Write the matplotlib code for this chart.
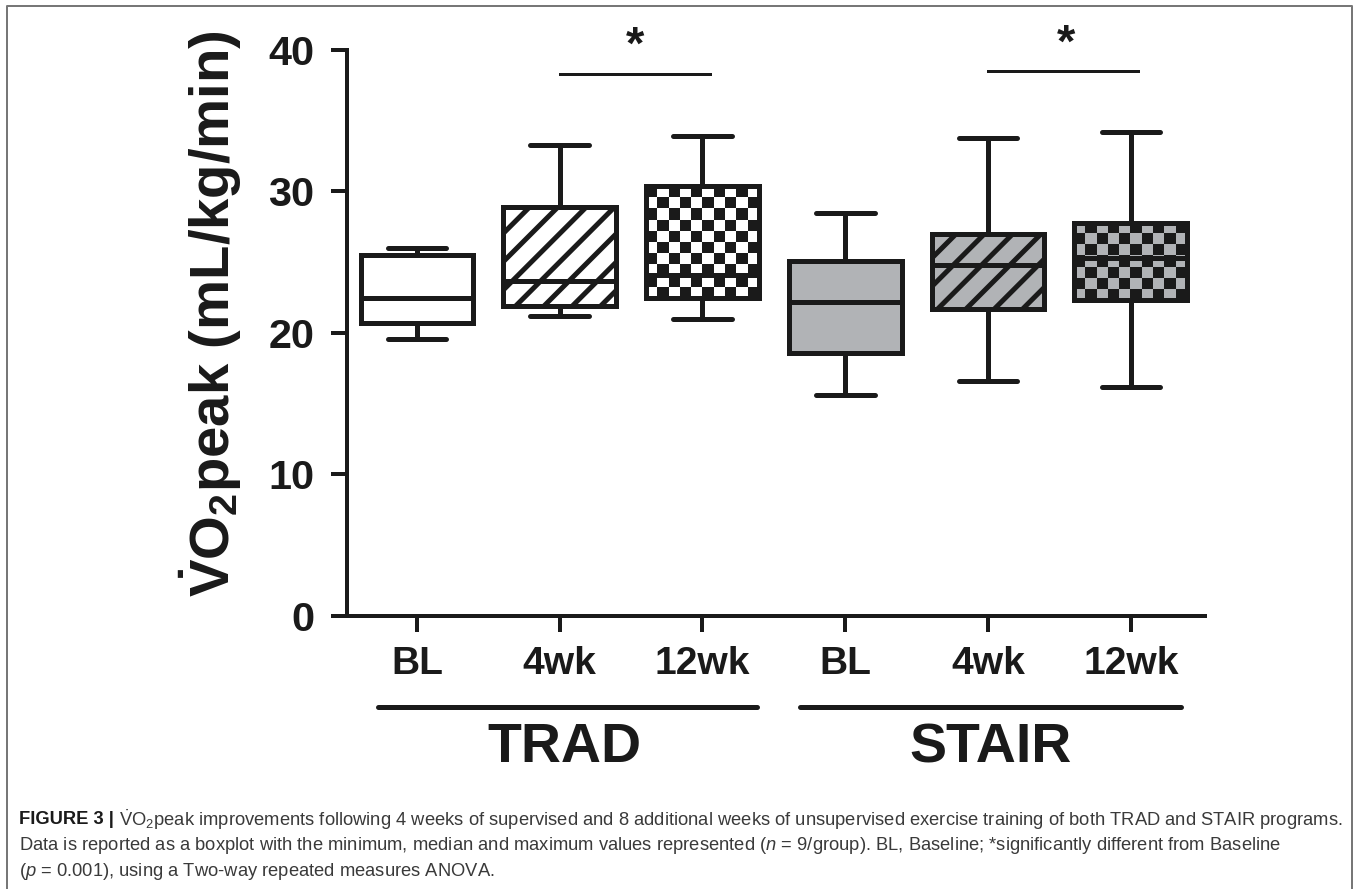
"""
VO2peak の箱ひげ図（TRAD / STAIR、BL・4wk・12wk）。
最小値・四分位・中央値・最大値を読み取った値で再現する。
"""

import matplotlib

matplotlib.use("Agg")
import matplotlib.pyplot as plt
import numpy as np
from matplotlib.colors import ListedColormap
from matplotlib.lines import Line2D
from matplotlib.patches import Rectangle

# ---- data ----
groups = ["TRAD", "STAIR"]
timepoints = ["BL", "4wk", "12wk", "BL", "4wk", "12wk"]
v_min = [19.6, 21.2, 21.0, 15.6, 16.6, 16.2]
v_q1 = [20.7, 21.9, 22.5, 18.6, 21.7, 22.3]
v_med = [22.5, 23.7, 24.1, 22.2, 24.8, 25.3]
v_q3 = [25.5, 28.9, 30.4, 25.1, 27.0, 27.8]
v_max = [26.0, 33.3, 33.9, 28.5, 33.8, 34.2]
fills = ["white", "white", "white", "#b1b3b6", "#b1b3b6", "#b1b3b6"]
patterns = ["", "//", "checker", "", "//", "checker"]
sig_pairs = [(2, 3), (5, 6)]

DPI = 170
PX = 72 / DPI  # 1 px in points
INK = "#1a1a1a"

plt.rcParams["font.family"] = ["Liberation Sans", "DejaVu Sans"]
plt.rcParams["mathtext.fontset"] = "custom"
plt.rcParams["mathtext.rm"] = "Liberation Sans"
plt.rcParams["mathtext.it"] = "Liberation Sans:italic"
plt.rcParams["mathtext.bf"] = "Liberation Sans:bold"
plt.rcParams["hatch.linewidth"] = 5 * PX

fig = plt.figure(figsize=(1357 / DPI, 889 / DPI), dpi=DPI)
ax = fig.add_axes([0.2557, 0.3071, 0.6323, 0.6367])

positions = np.arange(1, len(timepoints) + 1)
stats = [
    dict(whislo=lo, q1=a, med=m, q3=b, whishi=hi, fliers=[])
    for lo, a, m, b, hi in zip(v_min, v_q1, v_med, v_q3, v_max)
]
lw = 5 * PX
bp = ax.bxp(
    stats,
    positions=positions,
    widths=0.79,
    capwidths=0.41,
    patch_artist=True,
    boxprops=dict(linewidth=lw, edgecolor=INK),
    whiskerprops=dict(linewidth=lw, color=INK, solid_capstyle="butt"),
    capprops=dict(linewidth=lw, color=INK, solid_capstyle="round"),
    medianprops=dict(linewidth=lw, color=INK, zorder=5),
    showfliers=False,
)

# 塗り・ハッチ・チェック柄
sq_x, sq_y = 11.3 / 142.8, 11.3 / 14.15
for box, fill, pat, s, p in zip(bp["boxes"], fills, patterns, stats, positions):
    box.set_facecolor(fill)
    if pat == "checker":
        x0, x1 = p - 0.395, p + 0.395
        nx = int(round((x1 - x0) / sq_x))
        ny = int(round((s["q3"] - s["q1"]) / sq_y))
        grid = (np.add.outer(np.arange(ny), np.arange(nx)) % 2).astype(float)
        cmap = ListedColormap([fill, INK])
        im = ax.imshow(grid, extent=(x0, x1, s["q1"], s["q3"]), cmap=cmap,
                       interpolation="nearest", aspect="auto", origin="lower",
                       zorder=box.get_zorder() + 0.1)
        im.set_clip_path(box)
        edge = Rectangle((x0, s["q1"]), x1 - x0, s["q3"] - s["q1"],
                         facecolor="none", edgecolor=INK, linewidth=lw,
                         zorder=box.get_zorder() + 0.2)
        edge.set_joinstyle("round")
        ax.add_patch(edge)
    elif pat:
        box.set_hatch(pat)

ax.set_xlim(0.51, 6.52)
ax.set_ylim(0, 40)

# 軸
for side in ["top", "right"]:
    ax.spines[side].set_visible(False)
for side in ["left", "bottom"]:
    ax.spines[side].set_linewidth(4 * PX)
    ax.spines[side].set_color(INK)
ax.set_yticks([0, 10, 20, 30, 40])
ax.set_xticks(positions)
ax.set_xticklabels(timepoints, fontsize=16.5, fontweight="bold", color=INK)
ax.tick_params(axis="both", length=16 * PX, width=4 * PX, color=INK)
ax.tick_params(axis="x", pad=6.0)
ax.tick_params(axis="y", pad=7, labelsize=17.5, labelcolor=INK)
for t in ax.get_yticklabels():
    t.set_fontweight("bold")

ax.text(-0.159, 0.535, r"$\mathbf{\dot{V}O_2}$peak (mL/kg/min)", transform=ax.transAxes,
        rotation=90, ha="center", va="center", fontsize=23.8, fontweight="bold",
        color=INK)

# 有意差
for (a, b), star_x, y in zip(sig_pairs, [2.53, 5.55], [38.3, 38.5]):
    ax.add_line(Line2D([a, b + 0.05], [y, y], color=INK, linewidth=3 * PX,
                       clip_on=False))
    ax.text(star_x, y + 1.9, "*", ha="center", va="center", fontsize=20,
            fontweight="bold", color=INK, clip_on=False)

# 群ラベル
for g, (x0, x1), xc in zip(groups, [(0.73, 3.38), (3.68, 6.35)], [2.03, 5.02]):
    ax.add_line(Line2D([x0, x1], [-6.45, -6.45], color=INK, linewidth=5 * PX,
                       solid_capstyle="round", clip_on=False))
    ax.text(xc, -9.35, g, ha="center", va="center", fontsize=23.5,
            fontweight="bold", color=INK, clip_on=False)

# 枠とキャプション
fig.add_artist(Line2D([0.0052, 0.0052, 0.9963, 0.9963], [0, 0.9933, 0.9933, 0],
                      transform=fig.transFigure, color="#777777", linewidth=2 * PX))

cap_size = 7.8
cap_color = "#3a3a3a"
t1 = fig.text(0.014, 1 - 820 / 889, "FIGURE 3 |", fontsize=cap_size, fontweight="bold",
              va="center", color=INK)
fig.canvas.draw()
x_after = t1.get_window_extent().x1 / fig.bbox.width
fig.text(x_after, 1 - 820 / 889,
         " " + r"$\dot{\mathrm{V}}$O$_2$peak improvements following 4 weeks of supervised "
         "and 8 additional weeks of unsupervised exercise training of both TRAD and STAIR "
         "programs.", fontsize=cap_size, va="center", color=cap_color)
fig.text(0.014, 1 - 846 / 889,
         "Data is reported as a boxplot with the minimum, median and maximum values "
         r"represented ($n$ = 9/group). BL, Baseline; *significantly different from Baseline",
         fontsize=cap_size, va="center", color=cap_color)
fig.text(0.014, 1 - 872 / 889,
         r"($p$ = 0.001), using a Two-way repeated measures ANOVA.",
         fontsize=cap_size, va="center", color=cap_color)

fig.savefig("out.png", dpi=DPI)
